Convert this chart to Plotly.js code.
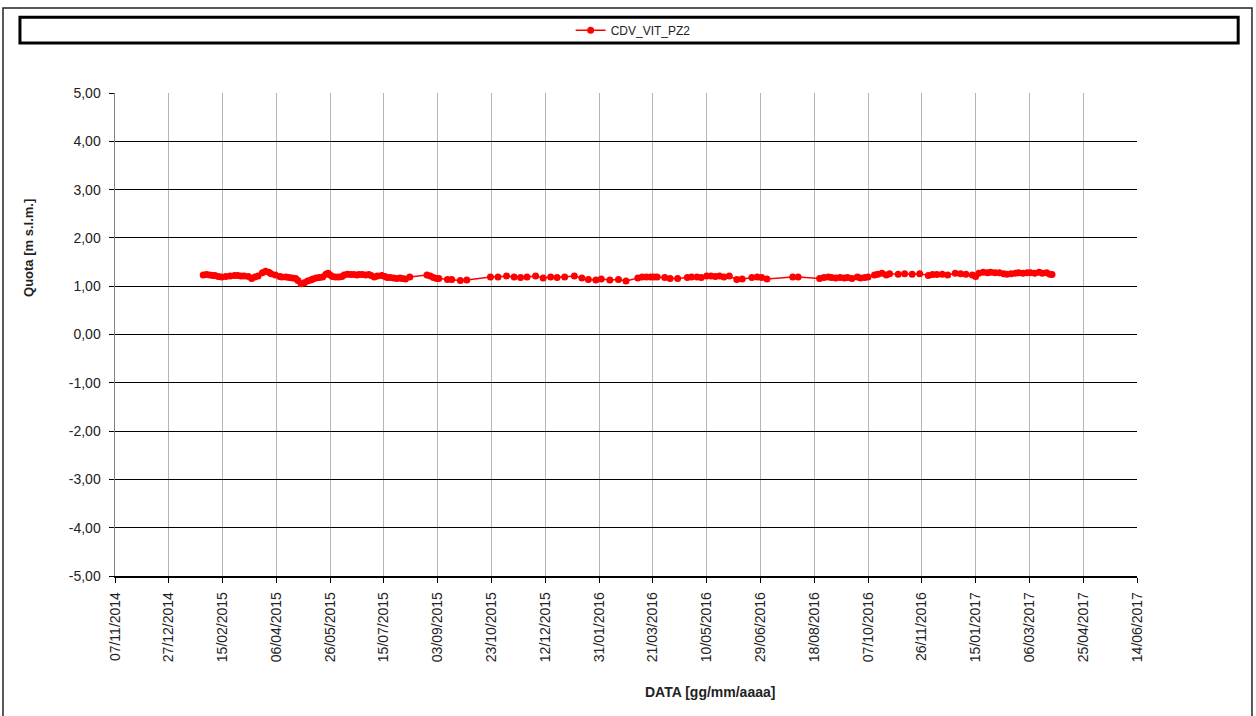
<!DOCTYPE html>
<html>
<head>
<meta charset="utf-8">
<script src="https://cdn.plot.ly/plotly-3.0.1.min.js"></script>
<style>
html,body{margin:0;padding:0;background:#fff;}
#chart{width:1256px;height:716px;}
</style>
</head>
<body>
<div id="chart"></div>
<script>
const seriesName = "CDV_VIT_PZ2";
const dates = [
"2015-01-28","2015-01-31","2015-02-03","2015-02-06","2015-02-08","2015-02-11","2015-02-14","2015-02-18","2015-02-22","2015-02-26",
"2015-03-01","2015-03-04","2015-03-07","2015-03-11","2015-03-14","2015-03-17","2015-03-20","2015-03-24","2015-03-27","2015-03-30",
"2015-04-01","2015-04-05","2015-04-09","2015-04-11","2015-04-15","2015-04-18","2015-04-21","2015-04-24","2015-04-26","2015-04-29",
"2015-05-02","2015-05-05","2015-05-08","2015-05-10","2015-05-13","2015-05-16","2015-05-19","2015-05-22","2015-05-24","2015-05-26",
"2015-05-28","2015-05-31","2015-06-03","2015-06-06","2015-06-08","2015-06-11","2015-06-14","2015-06-17","2015-06-20","2015-06-22",
"2015-06-25","2015-06-28","2015-07-01","2015-07-03","2015-07-06","2015-07-09","2015-07-13","2015-07-16","2015-07-18","2015-07-21",
"2015-07-24","2015-07-27","2015-07-30","2015-08-01","2015-08-04","2015-08-08","2015-08-24","2015-08-27","2015-08-30","2015-09-02",
"2015-09-04","2015-09-12","2015-09-16","2015-09-24","2015-09-30","2015-10-22","2015-10-29","2015-11-06","2015-11-13","2015-11-19",
"2015-11-25","2015-12-03","2015-12-10","2015-12-17","2015-12-23","2015-12-30","2016-01-08","2016-01-15","2016-01-21","2016-01-28",
"2016-02-02","2016-02-10","2016-02-18","2016-02-25","2016-03-07","2016-03-11","2016-03-15","2016-03-19","2016-03-22","2016-03-25",
"2016-04-01","2016-04-06","2016-04-13","2016-04-22","2016-04-26","2016-05-01","2016-05-05","2016-05-10","2016-05-14","2016-05-18",
"2016-05-22","2016-05-26","2016-05-31","2016-06-07","2016-06-12","2016-06-21","2016-06-26","2016-06-30","2016-07-05","2016-07-29",
"2016-08-03","2016-08-23","2016-08-27","2016-08-31","2016-09-03","2016-09-07","2016-09-11","2016-09-15","2016-09-18","2016-09-22",
"2016-09-27","2016-09-30","2016-10-04","2016-10-07","2016-10-13","2016-10-16","2016-10-20","2016-10-24","2016-10-27","2016-11-04",
"2016-11-10","2016-11-17","2016-11-24","2016-12-02","2016-12-06","2016-12-10","2016-12-15","2016-12-20","2016-12-27","2017-01-01",
"2017-01-06","2017-01-12","2017-01-15","2017-01-18","2017-01-22","2017-01-26","2017-01-29","2017-02-02","2017-02-06","2017-02-10",
"2017-02-13","2017-02-17","2017-02-21","2017-02-24","2017-02-28","2017-03-04","2017-03-07","2017-03-11","2017-03-15","2017-03-18",
"2017-03-22","2017-03-25","2017-03-27"
];
const quota = [
1.23,1.24,1.23,1.22,1.22,1.20,1.19,1.20,1.21,1.22,
1.22,1.21,1.21,1.20,1.16,1.19,1.21,1.28,1.31,1.29,
1.26,1.23,1.20,1.19,1.19,1.18,1.17,1.16,1.12,1.05,
1.07,1.11,1.13,1.15,1.17,1.18,1.19,1.25,1.27,1.23,
1.20,1.19,1.19,1.20,1.23,1.25,1.24,1.24,1.23,1.24,
1.24,1.23,1.24,1.22,1.19,1.21,1.22,1.20,1.18,1.18,
1.17,1.16,1.17,1.16,1.15,1.19,1.23,1.21,1.18,1.16,
1.16,1.14,1.14,1.12,1.13,1.19,1.19,1.21,1.19,1.18,
1.19,1.21,1.17,1.19,1.18,1.19,1.21,1.17,1.14,1.13,
1.15,1.13,1.14,1.11,1.17,1.19,1.19,1.19,1.19,1.19,
1.18,1.16,1.16,1.18,1.19,1.19,1.18,1.21,1.21,1.20,
1.21,1.19,1.21,1.14,1.15,1.18,1.19,1.18,1.15,1.19,
1.19,1.16,1.18,1.19,1.18,1.17,1.18,1.17,1.18,1.16,
1.19,1.17,1.18,1.19,1.23,1.25,1.27,1.23,1.26,1.25,
1.26,1.25,1.26,1.22,1.24,1.24,1.25,1.23,1.27,1.26,
1.25,1.23,1.20,1.27,1.29,1.28,1.29,1.28,1.28,1.26,
1.25,1.26,1.27,1.28,1.27,1.28,1.28,1.27,1.29,1.27,
1.28,1.25,1.24
];
const yTickVals = [5,4,3,2,1,0,-1,-2,-3,-4,-5];
const yTickText = ["5,00","4,00","3,00","2,00","1,00","0,00","-1,00","-2,00","-3,00","-4,00","-5,00"];
const xRange = ["2014-11-07","2017-06-14"];
const xTick0 = "2014-11-07";
const xTickDays = 50;
const xTitle = "DATA [gg/mm/aaaa]";
const yTitle = "Quota [m s.l.m.]";

const trace = {
  x: dates, y: quota, name: seriesName, type: "scatter", mode: "lines+markers",
  line: {color: "#ff0000", width: 1.5},
  marker: {color: "#ff0000", size: 7, symbol: "circle"}
};

const layout = {
  width: 1256, height: 716,
  margin: {l: 115, r: 119, t: 93, b: 140, pad: 0},
  paper_bgcolor: "#ffffff", plot_bgcolor: "#ffffff",
  font: {family: "Liberation Sans, Arial, sans-serif", size: 12, color: "#222"},
  showlegend: true,
  legend: {orientation: "h", x: 0.507, xanchor: "center", y: 1.13, yanchor: "middle",
           font: {size: 12, color: "#222"}, bgcolor: "rgba(0,0,0,0)", borderwidth: 0},
  xaxis: {
    type: "date", range: xRange, tickmode: "linear", tick0: xTick0, dtick: xTickDays*86400000,
    tickformat: "%d/%m/%Y", tickangle: -90, ticks: "outside", ticklen: 5, tickcolor: "#000",
    ticklabelstandoff: 4,
    showgrid: true, gridcolor: "#b4b4b4", gridwidth: 1,
    showline: true, linecolor: "#000", linewidth: 1.5, zeroline: false,
    tickfont: {size: 14, color: "#222"}
  },
  yaxis: {
    range: [-5, 5], tickmode: "array", tickvals: yTickVals, ticktext: yTickText,
    ticks: "outside", ticklen: 5, tickcolor: "#000",
    ticklabelstandoff: 5,
    showgrid: true, gridcolor: "#000", gridwidth: 1,
    showline: true, linecolor: "#808080", linewidth: 1.5, zeroline: false,
    tickfont: {size: 14, color: "#222"}
  },
  annotations: [
    {text: "<b>" + xTitle + "</b>", xref: "paper", yref: "paper", x: 0.582, y: -0.240,
     xanchor: "center", yanchor: "middle", showarrow: false, font: {size: 14, color: "#222"}},
    {text: "<b>" + yTitle + "</b>", xref: "paper", yref: "paper", x: -0.0852, y: 0.679,
     xanchor: "center", yanchor: "middle", textangle: -90, showarrow: false, font: {size: 13, color: "#222"}}
  ],
  shapes: [
    {type: "rect", xref: "paper", yref: "paper", x0: -0.1096, x1: 1.1125, y0: -0.31, y1: 1.176,
     line: {color: "#222", width: 1.5}, fillcolor: "rgba(0,0,0,0)", layer: "below"},
    {type: "rect", xref: "paper", yref: "paper", x0: -0.093, x1: 1.099, y0: 1.1035, y1: 1.157,
     line: {color: "#000", width: 3}, fillcolor: "rgba(0,0,0,0)", layer: "below"}
  ]
};

Plotly.newPlot("chart", [trace], layout, {displayModeBar: false, staticPlot: true});
</script>
</body>
</html>
